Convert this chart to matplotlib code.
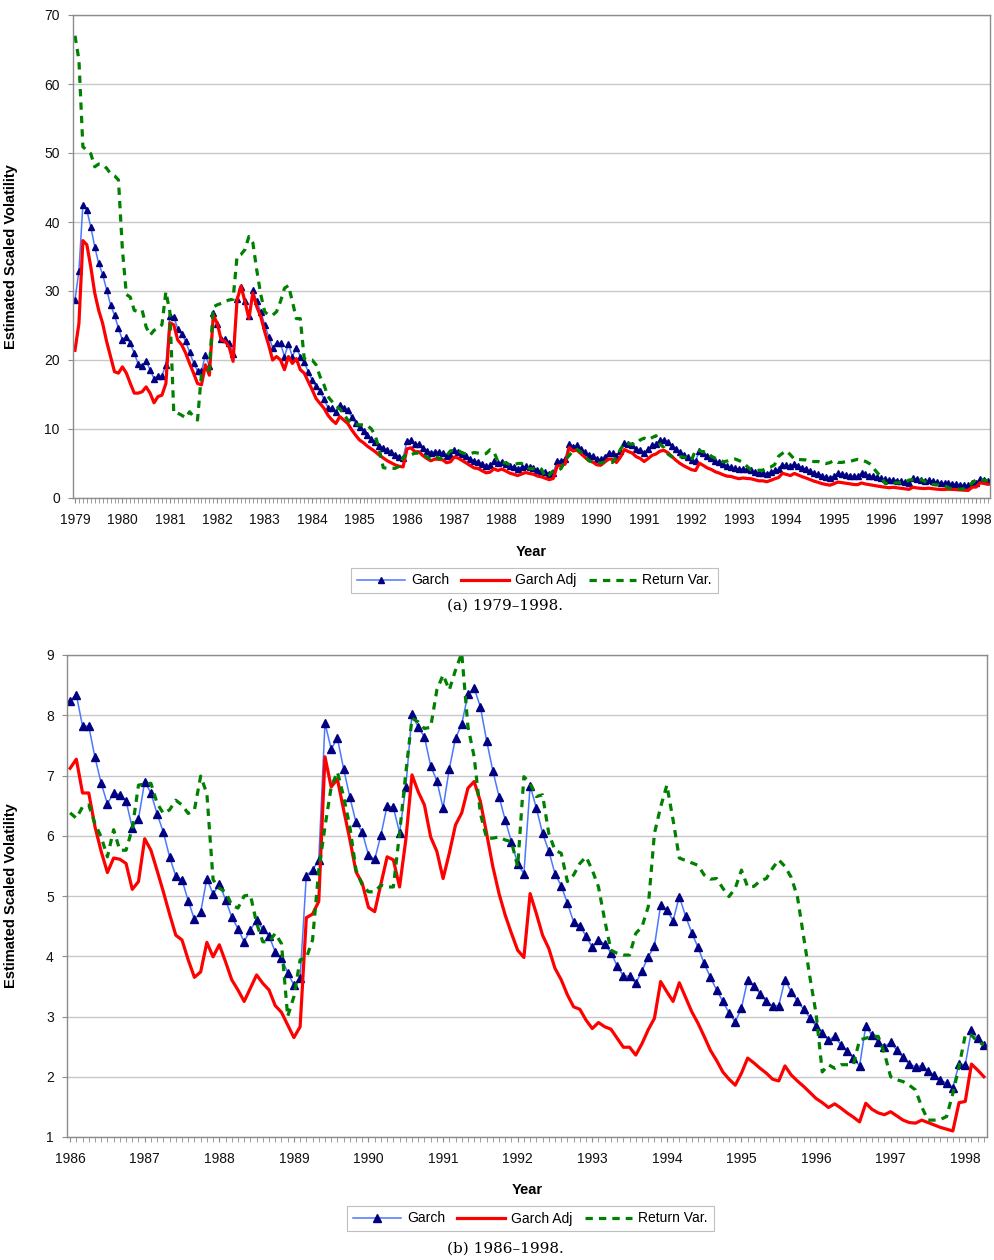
import numpy as np
import matplotlib
matplotlib.use("Agg")
from matplotlib import pyplot as plt
from matplotlib.ticker import MultipleLocator, FuncFormatter

plt.rcParams['font.family'] = ['Liberation Sans', 'DejaVu Sans']

# monthly values, Jan 1979 .. Apr 1998
garch = [
    28.7, 32.9, 42.5, 41.7, 39.3, 36.4, 34.0, 32.4, 30.2, 28.0, 26.5, 24.6,  # 1979
    22.9, 23.3, 22.4, 21.0, 19.4, 19.1, 19.8, 18.6, 17.3, 17.7, 17.7, 19.3,  # 1980
    26.4, 26.3, 24.5, 23.8, 22.7, 21.1, 19.6, 18.4, 18.4, 20.7, 19.1, 26.8,  # 1981
    25.2, 23.1, 23.0, 22.5, 20.9, 28.8, 30.6, 28.6, 26.4, 30.1, 28.5, 27.0,  # 1982
    25.1, 23.4, 21.8, 22.5, 22.4, 20.5, 22.3, 20.5, 21.8, 20.5, 19.7, 18.3,  # 1983
    17.1, 16.2, 15.5, 14.3, 13.1, 13.1, 12.4, 13.5, 13.1, 12.7, 11.8, 10.8,  # 1984
    10.3, 9.7, 9.1, 8.6, 8.1, 7.6, 7.2, 6.9, 6.6, 6.3, 6.0, 5.8,  # 1985
    8.24, 8.34, 7.82, 7.82, 7.30, 6.87, 6.53, 6.71, 6.68, 6.58, 6.13, 6.28,  # 1986
    6.90, 6.71, 6.36, 6.06, 5.65, 5.33, 5.27, 4.92, 4.61, 4.73, 5.29, 5.03,  # 1987
    5.20, 4.94, 4.65, 4.46, 4.24, 4.44, 4.60, 4.45, 4.34, 4.07, 3.97, 3.73,  # 1988
    3.52, 3.64, 5.34, 5.43, 5.60, 7.87, 7.44, 7.62, 7.11, 6.64, 6.22, 6.06,  # 1989
    5.68, 5.61, 6.01, 6.50, 6.47, 6.05, 6.81, 8.02, 7.80, 7.64, 7.16, 6.91,  # 1990
    6.46, 7.11, 7.62, 7.85, 8.35, 8.45, 8.14, 7.58, 7.08, 6.65, 6.26, 5.90,  # 1991
    5.53, 5.37, 6.83, 6.46, 6.04, 5.75, 5.37, 5.17, 4.88, 4.57, 4.51, 4.33,  # 1992
    4.15, 4.27, 4.20, 4.06, 3.84, 3.67, 3.67, 3.55, 3.76, 3.99, 4.17, 4.85,  # 1993
    4.77, 4.59, 4.99, 4.67, 4.39, 4.15, 3.88, 3.65, 3.44, 3.25, 3.06, 2.91,  # 1994
    3.14, 3.61, 3.50, 3.38, 3.25, 3.18, 3.18, 3.61, 3.41, 3.26, 3.12, 2.98,  # 1995
    2.84, 2.73, 2.61, 2.67, 2.53, 2.43, 2.31, 2.18, 2.84, 2.69, 2.58, 2.50,  # 1996
    2.57, 2.44, 2.32, 2.21, 2.17, 2.18, 2.10, 2.03, 1.95, 1.89, 1.82, 2.21,  # 1997
    2.20, 2.77, 2.64, 2.53,  # 1998
]

garch_adj = [
    21.4, 25.3, 37.3, 36.7, 33.5, 29.7, 27.2, 25.3, 22.7, 20.5, 18.3, 18.1,
    19.0, 18.1, 16.6, 15.2, 15.2, 15.4, 16.1, 15.2, 13.8, 14.7, 14.9, 16.6,
    25.4, 25.1, 22.9, 22.2, 21.0, 19.5, 18.1, 16.6, 16.4, 19.3, 17.8, 26.5,
    25.3, 22.9, 22.7, 21.9, 19.8, 28.7, 30.7, 28.5, 26.0, 29.7, 27.7, 26.3,
    24.1, 22.2, 20.0, 20.5, 20.0, 18.6, 20.5, 19.5, 20.2, 18.6, 18.1, 16.9,
    15.7, 14.4, 13.7, 13.0, 12.0, 11.3, 10.8, 11.8, 11.3, 10.8, 9.9, 9.1,
    8.4, 8.0, 7.5, 7.1, 6.7, 6.2, 5.8, 5.4, 5.1, 4.8, 4.6, 4.5,
    7.12, 7.27, 6.71, 6.71, 6.15, 5.74, 5.39, 5.63, 5.61, 5.54, 5.11, 5.24,
    5.95, 5.76, 5.42, 5.07, 4.70, 4.35, 4.27, 3.94, 3.65, 3.74, 4.23, 3.99,
    4.19, 3.91, 3.61, 3.44, 3.25, 3.47, 3.69, 3.55, 3.44, 3.18, 3.07, 2.86,
    2.65, 2.83, 4.64, 4.70, 4.91, 7.31, 6.81, 6.94, 6.43, 5.94, 5.40, 5.21,
    4.81, 4.74, 5.20, 5.65, 5.60, 5.15, 5.93, 7.01, 6.73, 6.51, 5.98, 5.74,
    5.29, 5.71, 6.18, 6.38, 6.79, 6.90, 6.57, 6.04, 5.49, 5.04, 4.68, 4.38,
    4.10, 3.98, 5.04, 4.71, 4.35, 4.13, 3.80, 3.61, 3.36, 3.16, 3.12, 2.94,
    2.80, 2.90, 2.83, 2.79, 2.64, 2.49, 2.49, 2.36, 2.55, 2.78, 2.97, 3.58,
    3.41, 3.25, 3.56, 3.32, 3.08, 2.89, 2.67, 2.44, 2.27, 2.08, 1.96, 1.86,
    2.06, 2.31, 2.23, 2.14, 2.06, 1.96, 1.93, 2.18, 2.03, 1.93, 1.84, 1.74,
    1.64, 1.57, 1.49, 1.55, 1.48, 1.40, 1.33, 1.25, 1.56, 1.46, 1.40, 1.37,
    1.42, 1.35, 1.28, 1.24, 1.23, 1.28, 1.24, 1.20, 1.16, 1.13, 1.10, 1.57,
    1.59, 2.21, 2.11, 2.00,
]

return_var = [
    67.0, 63.5, 50.9, 50.4, 49.9, 48.0, 48.4, 48.3, 47.8, 47.0, 46.7, 46.1,
    36.0, 29.5, 29.1, 27.2, 27.0, 27.2, 24.8, 23.6, 24.3, 24.6, 25.1, 29.9,
    27.0, 12.3, 12.3, 12.0, 11.6, 12.5, 11.8, 11.3, 18.0, 18.3, 18.6, 27.7,
    28.0, 28.2, 28.5, 28.7, 28.8, 35.0, 35.3, 36.0, 37.9, 37.0, 33.0, 29.5,
    27.0, 26.5, 26.5, 27.0, 28.5, 30.4, 30.8, 28.5, 26.0, 26.0, 20.2, 20.0,
    20.0, 19.3, 17.6, 16.4, 14.7, 14.0, 13.3, 12.9, 12.2, 11.3, 10.8, 10.7,
    10.6, 10.6, 10.5, 10.0, 9.0, 7.0, 4.4, 4.3, 4.3, 4.3, 4.6, 5.8,
    6.38, 6.29, 6.48, 6.51, 6.20, 5.98, 5.65, 6.10, 5.76, 5.76, 6.12, 6.84,
    6.86, 6.87, 6.54, 6.37, 6.43, 6.59, 6.51, 6.37, 6.43, 6.99, 6.70, 5.27,
    5.13, 5.07, 4.85, 4.80, 5.00, 5.02, 4.55, 4.24, 4.24, 4.38, 4.21, 3.00,
    3.33, 3.94, 3.97, 4.27, 5.43, 6.15, 6.81, 7.06, 6.65, 6.15, 5.43, 5.18,
    5.07, 5.07, 5.18, 5.15, 5.15, 6.04, 7.04, 7.95, 7.89, 7.78, 7.80, 8.42,
    8.67, 8.42, 8.75, 9.03, 7.81, 7.31, 6.37, 5.96, 5.96, 5.98, 5.93, 5.90,
    5.49, 6.98, 6.87, 6.65, 6.68, 6.04, 5.76, 5.71, 5.24, 5.35, 5.54, 5.65,
    5.43, 5.15, 4.60, 4.10, 4.05, 4.02, 4.02, 4.38, 4.49, 4.82, 6.04, 6.48,
    6.84, 6.26, 5.63, 5.59, 5.55, 5.51, 5.35, 5.28, 5.29, 5.13, 4.99, 5.13,
    5.43, 5.15, 5.16, 5.25, 5.29, 5.46, 5.60, 5.49, 5.31, 4.99, 4.33, 3.66,
    3.05, 2.08, 2.20, 2.14, 2.20, 2.20, 2.20, 2.61, 2.64, 2.67, 2.67, 2.39,
    2.00, 1.95, 1.92, 1.86, 1.78, 1.50, 1.28, 1.28, 1.29, 1.34, 1.72, 2.17,
    2.69, 2.69, 2.58, 2.53,
]

start_year = 1979
t = start_year + np.arange(len(garch)) / 12.0
garch = np.array(garch)
garch_adj = np.array(garch_adj)
return_var = np.array(return_var)

GRAY = '#8c8c8c'


def panel(ax, first_year, ymin, ymax, ystep, ms):
    sel = t >= first_year - 1e-9
    ax.plot(t[sel], garch[sel], color='#4a78ff', lw=1.1, marker='^', ms=ms,
            mfc='#000080', mec='#000080', label='Garch')
    ax.plot(t[sel], garch_adj[sel], color='#ff0000', lw=2.3, label='Garch Adj')
    ax.plot(t[sel], return_var[sel], color='#008000', lw=2.3,
            linestyle=(0, (2.3, 1.9)), label='Return Var.')
    ax.set_xlim(first_year - 1 / 24, t[-1] + 1 / 24)
    ax.set_ylim(ymin, ymax)
    ax.yaxis.set_major_locator(MultipleLocator(ystep))
    ax.xaxis.set_major_locator(MultipleLocator(1))
    ax.xaxis.set_minor_locator(MultipleLocator(1 / 12))
    ax.xaxis.set_major_formatter(FuncFormatter(lambda v, p: '%d' % round(v)))
    ax.grid(axis='y', color='#c8c8c8', lw=1)
    ax.set_axisbelow(True)
    for s in ax.spines.values():
        s.set_color(GRAY)
        s.set_linewidth(1.0)
    ax.tick_params(axis='both', which='both', color=GRAY, length=3.5,
                   labelsize=10, labelcolor='#111111')
    ax.tick_params(axis='x', which='both', pad=7)
    ax.tick_params(axis='y', pad=6)
    ax.set_ylabel('Estimated Scaled Volatility', fontsize=10.5, fontweight='bold')
    ax.set_xlabel('Year', fontsize=10.5, fontweight='bold')


fig = plt.figure(figsize=(9.94, 12.6), dpi=100)
W, H = 994.0, 1260.0

ax1 = fig.add_axes([73 / W, 1 - 498 / H, 917 / W, 483 / H])
panel(ax1, 1979, 0, 70, 10, 4.6)
ax1.yaxis.set_label_coords((18 - 73) / 917, 0.5)
ax1.xaxis.set_label_coords(0.5, -(545 - 498) / 483)

ax2 = fig.add_axes([67 / W, 1 - 1137 / H, 920 / W, 482 / H])
panel(ax2, 1986, 1, 9, 1, 5.5)
ax2.yaxis.set_label_coords((18 - 67) / 920, 0.5)
ax2.xaxis.set_label_coords(0.5, -(1183 - 1137) / 482)

for ax, cx, cy in [(ax1, 534.5, 580.5), (ax2, 530.5, 1218.5)]:
    leg = ax.legend(loc='center', bbox_to_anchor=(cx / W, 1 - cy / H),
                    bbox_transform=fig.transFigure, ncol=3, fontsize=10,
                    frameon=True, fancybox=False, edgecolor='#b0b0b0',
                    handlelength=3.4, handletextpad=0.45, columnspacing=0.9,
                    borderpad=0.42, borderaxespad=0)
    leg.get_frame().set_linewidth(0.8)

fig.text(505 / W, 1 - 606 / H, '(a) 1979\u20131998.', ha='center', va='center',
         fontsize=11, family='DejaVu Serif')
fig.text(505 / W, 1 - 1249 / H, '(b) 1986\u20131998.', ha='center', va='center',
         fontsize=11, family='DejaVu Serif')

fig.savefig('out.png', dpi=100, facecolor='white')
